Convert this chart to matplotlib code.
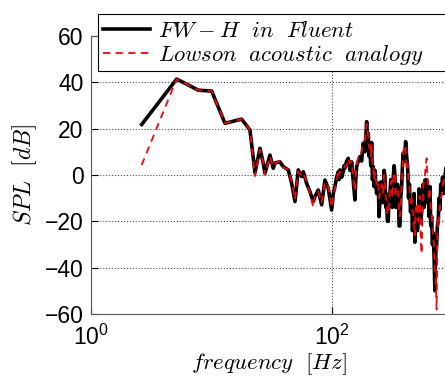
import numpy as np
import matplotlib
matplotlib.use('Agg')
import matplotlib.pyplot as plt

plt.rcParams['font.family'] = ['Liberation Sans', 'DejaVu Sans']
plt.rcParams['mathtext.fontset'] = 'cm'

# frequency points (Hz)
freq = [2.654, 5.17, 7.81, 10.08, 12.98, 17.85, 20.91, 23.0, 25.3, 26.95,
        27.83, 30.6, 32.6, 33.7, 37.0, 39.4, 43.4, 46.3, 49.3, 52.5,
        56.0, 57.8, 61.6, 65.6, 69.9, 72.2, 76.9, 82.0, 87.3, 93.0,
        99.2, 102.4, 105.7, 109.0, 112.5, 114.4, 116.3, 120.0, 123.8, 125.8,
        127.9, 132.0, 136.2, 140.7, 145.3, 150.0, 154.7, 157.2, 159.8, 164.9,
        170.2, 175.7, 181.3, 187.3, 193.4, 196.4, 199.4, 202.6, 205.9, 209.3,
        212.7, 216.0, 219.3, 222.9, 226.5, 233.8, 241.3, 245.2, 249.2, 253.3,
        257.4, 261.3, 265.3, 269.7, 274.1, 278.6, 283.1, 287.5, 291.9, 296.7,
        301.5, 306.4, 311.4, 316.2, 321.1, 326.4, 331.7, 337.1, 342.6, 347.9,
        353.2, 359.0, 364.8, 370.8, 376.9, 382.7, 388.5, 397.5, 406.7, 414.5,
        422.5, 429.8, 437.2, 446.5, 456.0, 463.0, 470.1, 477.8, 485.7, 493.6,
        501.6, 509.3, 517.2, 525.6, 534.2, 542.9, 551.8, 560.3, 568.9, 578.1,
        587.5, 597.1, 606.9, 616.2, 625.7, 635.9, 646.2, 656.8, 667.5, 677.7,
        688.1, 699.4, 710.8, 722.5, 734.3, 745.6, 757.0, 769.4, 782.0, 794.8,
        807.8, 820.3, 833.0, 846.6, 860.4, 876.5, 892.9]

# SPL [dB], FW-H in Fluent
spl_fwh = [21.8, 41.4, 36.6, 36.2, 22.3, 24.1, 19.4, 1.0, 11.5, 5.0,
           0.7, 8.6, 2.9, 5.2, 5.7, 3.6, 2.2, -3.6, -11.5, 2.2,
           -0.7, 1.4, -3.6, -7.2, -11.5, -9.3, -6.5, -12.9, -2.2, -5.7,
           -15.1, -8.0, -5.0, -1.0, 1.4, -2.0, 2.2, -1.0, 1.4, 4.0,
           3.0, 6.0, 7.2, 2.0, 5.7, -3.0, -10.8, -2.0, 3.6, 6.0,
           7.9, 6.0, 13.7, 10.0, 23.0, 14.0, 18.0, 8.0, 10.8, 4.0,
           14.0, -2.0, 3.6, -5.0, 2.0, -8.0, -3.6, -18.0, -10.0, -3.0,
           -4.0, -12.0, -8.0, 2.0, -0.7, -14.0, -12.0, -20.0, -20.0, -8.0,
           -8.0, -2.0, -3.6, -14.0, -1.0, 4.0, 0.0, -14.0, -10.0, -4.0,
           -6.0, -22.0, -22.0, -10.0, -5.0, 4.0, 9.4, 6.0, 14.4, 8.0,
           3.6, -10.0, -4.0, -16.0, -10.8, -24.0, -18.0, -8.0, -29.0, -18.0,
           -15.0, -24.0, -19.4, -6.0, -8.0, -20.0, -16.0, -8.0, -4.0, -14.0,
           -2.2, -8.0, -2.0, -12.0, -6.0, -18.0, -5.0, -22.0, -18.0, -30.0,
           -25.0, -35.0, -50.0, -34.0, -30.0, -22.0, -20.0, -10.0, -15.0, -4.0,
           -8.0, -1.0, -2.2, -8.0, -1.0, 3.0, 2.0]

# SPL [dB], Lowson acoustic analogy
spl_lowson = [4.3, 41.4, 36.6, 36.2, 22.3, 24.1, 19.4, -0.5, 11.0, 5.5,
              0.0, 8.0, 3.5, 5.0, 6.0, 3.0, 2.5, -3.0, -10.5, 1.5,
              0.0, 1.0, -3.0, -8.0, -14.0, -9.0, -7.0, -12.0, -3.0, -5.0,
              -14.0, -9.0, -6.0, -3.0, 2.0, 0.0, 1.5, 1.0, 2.0, 3.0,
              4.0, 4.0, 7.0, 5.0, 6.0, -1.0, -7.0, 0.0, 4.0, 8.0,
              8.5, 10.0, 14.5, 15.0, 22.0, 19.0, 17.0, 12.0, 12.0, 8.0,
              13.0, 4.0, 4.5, -2.0, 1.0, -4.0, -2.5, -10.0, -8.0, -6.0,
              -4.0, -8.0, -7.0, 0.0, -1.5, -10.0, -11.0, -17.0, -17.0, -12.0,
              -7.0, -4.0, -2.5, -10.0, -2.0, 1.0, 1.0, -8.0, -9.0, -7.0,
              -7.0, -16.0, -18.0, -14.0, -4.0, 2.0, 10.0, 12.0, 13.0, 2.0,
              4.5, -2.0, -5.0, -12.0, -9.0, -16.0, -16.0, -22.0, -26.0, -14.0,
              -17.0, -12.0, -20.0, -10.0, -9.0, -28.0, -34.0, -16.0, -5.0, -2.0,
              0.0, 4.0, 7.2, -2.0, -4.0, -10.0, -7.0, -14.0, -16.0, -22.0,
              -27.0, -30.0, -42.0, -45.0, -58.0, -25.0, -18.0, -20.0, -14.0, -10.0,
              -9.0, -6.0, -3.0, -1.0, -2.0, -4.0, 1.0]

fig = plt.figure(figsize=(4.45, 3.81), dpi=100)
ax = fig.add_axes([0.2034, 0.1759, 0.8006, 0.7297])

ax.semilogx(freq, spl_fwh, 'k-', lw=2.6, label=r'$FW-H\ \ in\ \ Fluent$')
ax.semilogx(freq, spl_lowson, 'r--', lw=1.3, dashes=(4, 3),
            label=r'$Lowson\ \ acoustic\ \ analogy$')

ax.set_xlim(1, 10**2.95)
ax.set_ylim(-60, 60)
ax.set_xticks([1, 100])
ax.xaxis.set_minor_locator(matplotlib.ticker.NullLocator())
ax.set_yticks([-60, -40, -20, 0, 20, 40, 60])
ax.tick_params(direction='in', labelsize=16.5, length=5, width=0.8)
ax.tick_params(axis='x', pad=8)
ax.tick_params(axis='y', pad=5)
ax.grid(True, linestyle=':', color='0.3', lw=0.8)
ax.spines['right'].set_visible(False)
for s in ax.spines.values():
    s.set_color('0.35')

ax.set_xlabel(r'$frequency\ \ [Hz]$', fontsize=16.5, labelpad=1)
ax.set_ylabel(r'$SPL\ \ [dB]$', fontsize=17, labelpad=4)

leg = ax.legend(loc='upper left', bbox_to_anchor=(0.2202, 0.811, 0.85, 0.1523),
                bbox_transform=fig.transFigure, mode='expand', borderaxespad=0,
                fontsize=16.3, fancybox=False, framealpha=1, edgecolor='k',
                handlelength=2.1, borderpad=0.2, labelspacing=0.05,
                handletextpad=0.35)
leg.get_frame().set_linewidth(0.8)

fig.savefig('out.png', dpi=100)
